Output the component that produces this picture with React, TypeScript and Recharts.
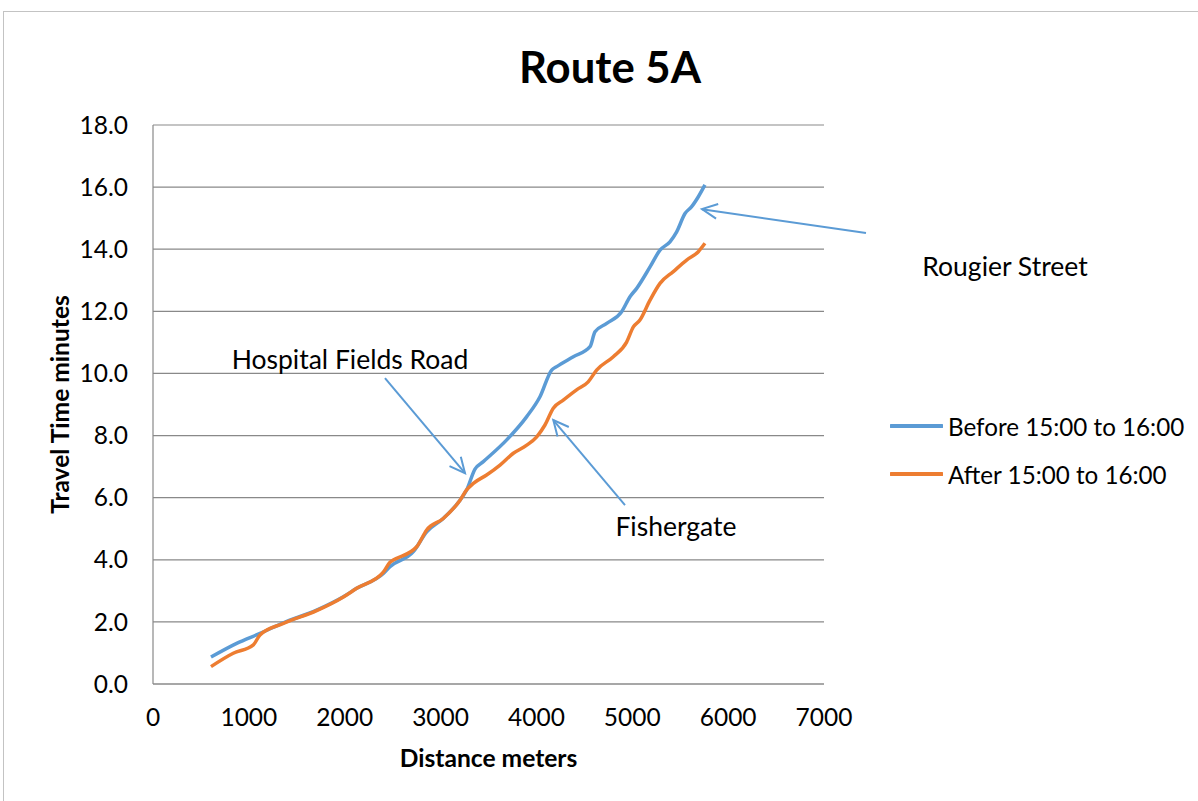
import React from 'react';
import {
  LineChart,
  Line,
  XAxis,
  YAxis,
  CartesianGrid,
  Legend,
  ReferenceLine,
  ReferenceDot,
} from 'recharts';

const FONT = 'Lato, "Open Sans", "DejaVu Sans", sans-serif';

const title = 'Route 5A';
const xAxisTitle = 'Distance meters';
const yAxisTitle = 'Travel Time minutes';

const xTicks = [0, 1000, 2000, 3000, 4000, 5000, 6000, 7000];
const yTicks = [0, 2, 4, 6, 8, 10, 12, 14, 16, 18];

const beforeName = 'Before 15:00 to 16:00';
const afterName = 'After 15:00 to 16:00';

const beforeDistance = [
  605, 873, 1116, 1360, 1707, 1986, 2125, 2403, 2472, 2716, 2855, 3028, 3203, 3272,
  3359, 3446, 3690, 3899, 4037, 4159, 4211, 4385, 4559, 4611, 4733, 4889, 4976, 5046,
  5185, 5289, 5393, 5463, 5550, 5619, 5689, 5758,
];
const beforeTime = [
  0.87, 1.31, 1.63, 1.97, 2.38, 2.81, 3.08, 3.56, 3.78, 4.26, 4.9, 5.33, 5.92, 6.25,
  6.92, 7.16, 7.86, 8.61, 9.25, 10.11, 10.22, 10.54, 10.86, 11.34, 11.61, 11.99, 12.47, 12.74,
  13.43, 13.97, 14.24, 14.56, 15.15, 15.37, 15.69, 16.07,
];

const afterDistance = [
  605, 837, 1047, 1116, 1360, 1707, 1986, 2125, 2403, 2472, 2507, 2751, 2855, 3028,
  3203, 3272, 3342, 3480, 3620, 3759, 3899, 4003, 4089, 4176, 4280, 4419, 4540, 4628,
  4802, 4941, 5011, 5080, 5185, 5289, 5428, 5567, 5689, 5758,
];
const afterTime = [
  0.56, 0.99, 1.26, 1.58, 1.95, 2.36, 2.8, 3.08, 3.6, 3.92, 3.99, 4.42, 4.96, 5.33,
  5.92, 6.25, 6.46, 6.73, 7.05, 7.43, 7.69, 7.96, 8.34, 8.88, 9.14, 9.47, 9.73, 10.11,
  10.54, 11.01, 11.5, 11.72, 12.36, 12.9, 13.28, 13.65, 13.92, 14.19,
];

// annotations (data coordinates)
const annotationNames = ['Hospital Fields Road', 'Fishergate', 'Rougier Street'];
const annotationTextD = [2055, 5456, 8888];
const annotationTextT = [10.46, 5.09, 13.46];
const arrowTailD = [2420, 4924, 7438];
const arrowTailT = [9.85, 5.76, 14.52];
const arrowHeadD = [3255, 4176, 5727];
const arrowHeadT = [6.79, 8.5, 15.29];

const BLUE = '#5B9BD5';
const ORANGE = '#ED7D31';
const GRID = '#898989';

const beforeData = beforeDistance.map((d, i) => ({ d, t: beforeTime[i] }));
const afterData = afterDistance.map((d, i) => ({ d, t: afterTime[i] }));

const ArrowShape = (props: any) => {
  const { x1, y1, x2, y2 } = props;
  if ([x1, y1, x2, y2].some((v) => typeof v !== 'number' || isNaN(v))) return null;
  const ang = Math.atan2(y2 - y1, x2 - x1);
  const len = 17;
  const spread = Math.PI / 7;
  const ax1 = x2 - len * Math.cos(ang - spread);
  const ay1 = y2 - len * Math.sin(ang - spread);
  const ax2 = x2 - len * Math.cos(ang + spread);
  const ay2 = y2 - len * Math.sin(ang + spread);
  return (
    <g>
      <line x1={x1} y1={y1} x2={x2} y2={y2} stroke={BLUE} strokeWidth={2} />
      <polyline
        points={`${ax1},${ay1} ${x2},${y2} ${ax2},${ay2}`}
        fill="none"
        stroke={BLUE}
        strokeWidth={2}
      />
    </g>
  );
};

const makeTextShape = (label: string) => (props: any) => {
  const { cx, cy } = props;
  return (
    <text
      x={cx}
      y={cy}
      textAnchor="middle"
      dominantBaseline="central"
      fontFamily={FONT}
      fontSize={26.5}
      fill="#000"
    >
      {label}
    </text>
  );
};

const LegendContent = () => {
  const items = [
    { name: beforeName, color: BLUE },
    { name: afterName, color: ORANGE },
  ];
  return (
    <div style={{ fontFamily: FONT, fontSize: 24.2, color: '#000', textAlign: 'left' }}>
      {items.map((it) => (
        <div key={it.name} style={{ display: 'flex', alignItems: 'center', height: 48 }}>
          <svg width={53} height={6} style={{ marginRight: 5 }}>
            <line x1={1} y1={3} x2={52} y2={3} stroke={it.color} strokeWidth={4} strokeLinecap="round" />
          </svg>
          <span style={{ whiteSpace: 'nowrap' }}>{it.name}</span>
        </div>
      ))}
    </div>
  );
};

export default function App() {
  return (
    <div
      style={{
        position: 'absolute',
        left: 0,
        top: 0,
        width: 1198,
        height: 801,
        background: '#fff',
        overflow: 'hidden',
        fontFamily: FONT,
      }}
    >
      <div
        style={{
          position: 'absolute',
          left: 3,
          top: 11,
          width: 1300,
          height: 900,
          border: '1px solid #c3c3c3',
        }}
      />
      <div
        style={{
          position: 'absolute',
          left: 0,
          top: 38,
          width: 1220,
          textAlign: 'center',
          fontFamily: FONT,
          fontWeight: 700,
          fontSize: 43.7,
          lineHeight: '56px',
          color: '#000',
        }}
      >
        {title}
      </div>
      <div style={{ position: 'absolute', left: 0, top: 0 }}>
        <LineChart
          width={1198}
          height={801}
          margin={{ top: 125, right: 374, bottom: 0, left: 0 }}
          style={{ fontFamily: FONT }}
        >
          <CartesianGrid vertical={false} horizontal={true} stroke={GRID} strokeWidth={1.2} />
          <XAxis
            dataKey="d"
            type="number"
            domain={[0, 7000]}
            ticks={xTicks}
            allowDataOverflow
            height={117}
            tickLine={false}
            tickSize={6}
            tickMargin={19}
            interval={0}
            axisLine={{ stroke: GRID, strokeWidth: 1.2 }}
            tick={{ fill: '#000', fontSize: 24.5, fontFamily: FONT }}
            label={{
              value: xAxisTitle,
              position: 'insideBottom',
              offset: 34,
              fill: '#000',
              fontSize: 24.6,
              fontWeight: 700,
              fontFamily: FONT,
            }}
          />
          <YAxis
            dataKey="t"
            type="number"
            domain={[0, 18]}
            ticks={yTicks}
            width={153}
            tickLine={false}
            tickSize={6}
            tickMargin={19}
            interval={0}
            tickFormatter={(v: number) => v.toFixed(1)}
            axisLine={{ stroke: GRID, strokeWidth: 1.2 }}
            tick={{ fill: '#000', fontSize: 24.5, fontFamily: FONT }}
            label={{
              value: yAxisTitle,
              angle: -90,
              position: 'insideLeft',
              offset: 60,
              fill: '#000',
              fontSize: 24.6,
              fontWeight: 700,
              fontFamily: FONT,
              style: { textAnchor: 'middle' },
            }}
          />
          <Legend
            verticalAlign="middle"
            align="center"
            layout="horizontal"
            wrapperStyle={{ position: 'absolute', left: 890, top: 402, width: 300 }}
            content={<LegendContent />}
          />
          <Line
            data={beforeData}
            dataKey="t"
            name={beforeName}
            type="monotone"
            stroke={BLUE}
            strokeWidth={3.5}
            dot={false}
            activeDot={false}
            isAnimationActive={false}
          />
          <Line
            data={afterData}
            dataKey="t"
            name={afterName}
            type="monotone"
            stroke={ORANGE}
            strokeWidth={3.5}
            dot={false}
            activeDot={false}
            isAnimationActive={false}
          />
          {annotationNames.map((name, i) => (
            <ReferenceLine
              key={`arrow-${name}`}
              segment={[
                { x: arrowTailD[i], y: arrowTailT[i] },
                { x: arrowHeadD[i], y: arrowHeadT[i] },
              ]}
              ifOverflow="visible"
              shape={ArrowShape}
            />
          ))}
          {annotationNames.map((name, i) => (
            <ReferenceDot
              key={`text-${name}`}
              x={annotationTextD[i]}
              y={annotationTextT[i]}
              r={0}
              ifOverflow="visible"
              shape={makeTextShape(name)}
            />
          ))}
        </LineChart>
      </div>
    </div>
  );
}
